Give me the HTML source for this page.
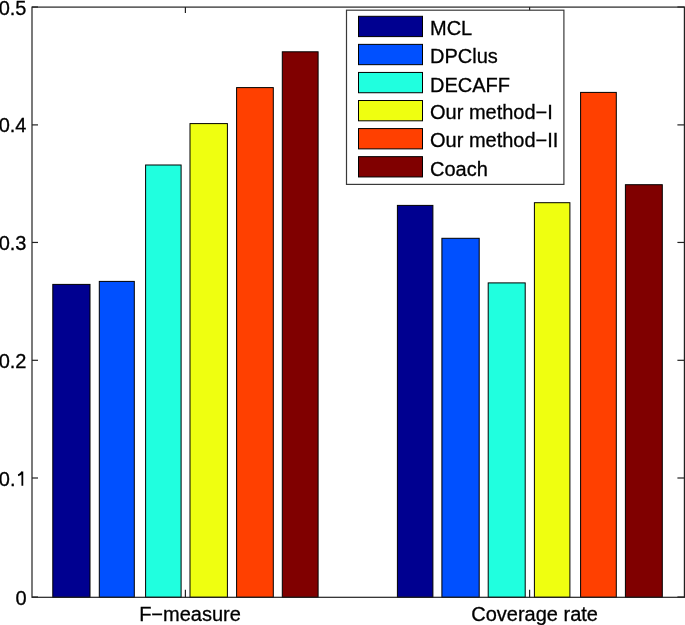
<!DOCTYPE html>
<html><head><meta charset="utf-8"><style>
html,body{margin:0;padding:0;background:#fff;}
body{width:685px;height:625px;overflow:hidden;}
svg{display:block;will-change:transform;}
text{font-family:"Liberation Sans",sans-serif;font-size:20px;fill:#000;stroke:#000;stroke-width:0.3px;}
</style></head><body>
<svg width="685" height="625" viewBox="0 0 685 625">
<rect x="0" y="0" width="685" height="625" fill="#fff"/>
<rect x="52.80" y="284.40" width="37.20" height="312.90" fill="#000090" stroke="#000" stroke-width="1"/>
<rect x="99.30" y="281.40" width="35.00" height="315.90" fill="#0050FF" stroke="#000" stroke-width="1"/>
<rect x="145.60" y="165.00" width="35.50" height="432.30" fill="#20FFDF" stroke="#000" stroke-width="1"/>
<rect x="190.00" y="123.60" width="37.40" height="473.70" fill="#EFFF10" stroke="#000" stroke-width="1"/>
<rect x="236.60" y="87.60" width="36.70" height="509.70" fill="#FF4000" stroke="#000" stroke-width="1"/>
<rect x="282.30" y="51.80" width="35.80" height="545.50" fill="#800000" stroke="#000" stroke-width="1"/>
<rect x="397.40" y="205.40" width="35.50" height="391.90" fill="#000090" stroke="#000" stroke-width="1"/>
<rect x="441.90" y="238.30" width="37.30" height="359.00" fill="#0050FF" stroke="#000" stroke-width="1"/>
<rect x="488.20" y="282.90" width="37.00" height="314.40" fill="#20FFDF" stroke="#000" stroke-width="1"/>
<rect x="534.40" y="202.70" width="35.50" height="394.60" fill="#EFFF10" stroke="#000" stroke-width="1"/>
<rect x="580.60" y="92.40" width="35.70" height="504.90" fill="#FF4000" stroke="#000" stroke-width="1"/>
<rect x="625.40" y="184.70" width="36.90" height="412.60" fill="#800000" stroke="#000" stroke-width="1"/>
<g stroke="#222" stroke-width="1.2" fill="none">
<rect x="32" y="7.1" width="652.4" height="590.1999999999999"/>
<line x1="32" y1="597.00" x2="38" y2="597.00"/>
<line x1="684.4" y1="597.00" x2="677.4" y2="597.00"/>
<line x1="32" y1="478.00" x2="38" y2="478.00"/>
<line x1="684.4" y1="478.00" x2="677.4" y2="478.00"/>
<line x1="32" y1="360.30" x2="38" y2="360.30"/>
<line x1="684.4" y1="360.30" x2="677.4" y2="360.30"/>
<line x1="32" y1="242.45" x2="38" y2="242.45"/>
<line x1="684.4" y1="242.45" x2="677.4" y2="242.45"/>
<line x1="32" y1="124.90" x2="38" y2="124.90"/>
<line x1="684.4" y1="124.90" x2="677.4" y2="124.90"/>
<line x1="32" y1="7.00" x2="38" y2="7.00"/>
<line x1="684.4" y1="7.00" x2="677.4" y2="7.00"/>
<line x1="185.4" y1="7.1" x2="185.4" y2="13.1"/>
<line x1="185.4" y1="597.3" x2="185.4" y2="589.8"/>
<line x1="529.6" y1="7.1" x2="529.6" y2="13.1"/>
<line x1="529.6" y1="597.3" x2="529.6" y2="589.8"/>
</g>
<rect x="346.5" y="10.2" width="217.4" height="174.2" fill="#fff" stroke="#3a3a3a" stroke-width="1.2"/>
<rect x="358.5" y="16.30" width="64" height="20.3" fill="#000090" stroke="#000" stroke-width="1"/>
<text transform="translate(430.00 35.30) scale(1 1.0)">MCL</text>
<rect x="358.5" y="44.37" width="64" height="20.3" fill="#0050FF" stroke="#000" stroke-width="1"/>
<text transform="translate(430.00 63.37) scale(1 1.0)">DPClus</text>
<rect x="358.5" y="72.44" width="64" height="20.3" fill="#20FFDF" stroke="#000" stroke-width="1"/>
<text transform="translate(430.00 92.44) scale(1 1.0)">DECAFF</text>
<rect x="358.5" y="100.51" width="64" height="20.3" fill="#EFFF10" stroke="#000" stroke-width="1"/>
<text transform="translate(430.00 118.51) scale(1 1.0)">Our method−I</text>
<rect x="358.5" y="128.58" width="64" height="20.3" fill="#FF4000" stroke="#000" stroke-width="1"/>
<text transform="translate(430.00 146.58) scale(1 1.0)">Our method−II</text>
<rect x="358.5" y="156.65" width="64" height="20.3" fill="#800000" stroke="#000" stroke-width="1"/>
<text transform="translate(430.00 175.65) scale(1 1.0)">Coach</text>
<text transform="translate(26.50 604.90) scale(1 1.0)" text-anchor="end">0</text>
<text transform="translate(15.50 485.50) scale(1 1.0)" text-anchor="end">0.</text>
<path d="M22.35 485.7 L22.35 471.6 M22.2 471.7 Q21.0 474.6 18.1 475.4" fill="none" stroke="#000" stroke-width="1.8"/>
<text transform="translate(26.50 367.90) scale(1 1.0)" text-anchor="end">0.2</text>
<text transform="translate(26.50 249.65) scale(1 1.0)" text-anchor="end">0.3</text>
<text transform="translate(26.50 132.00) scale(1 1.0)" text-anchor="end">0.4</text>
<text transform="translate(26.50 15.10) scale(1 1.0)" text-anchor="end">0.5</text>
<text transform="translate(190.00 620.90) scale(1 1.0)" text-anchor="middle">F−measure</text>
<text transform="translate(534.60 620.90) scale(1 1.0)" text-anchor="middle">Coverage rate</text>
</svg>
</body></html>
